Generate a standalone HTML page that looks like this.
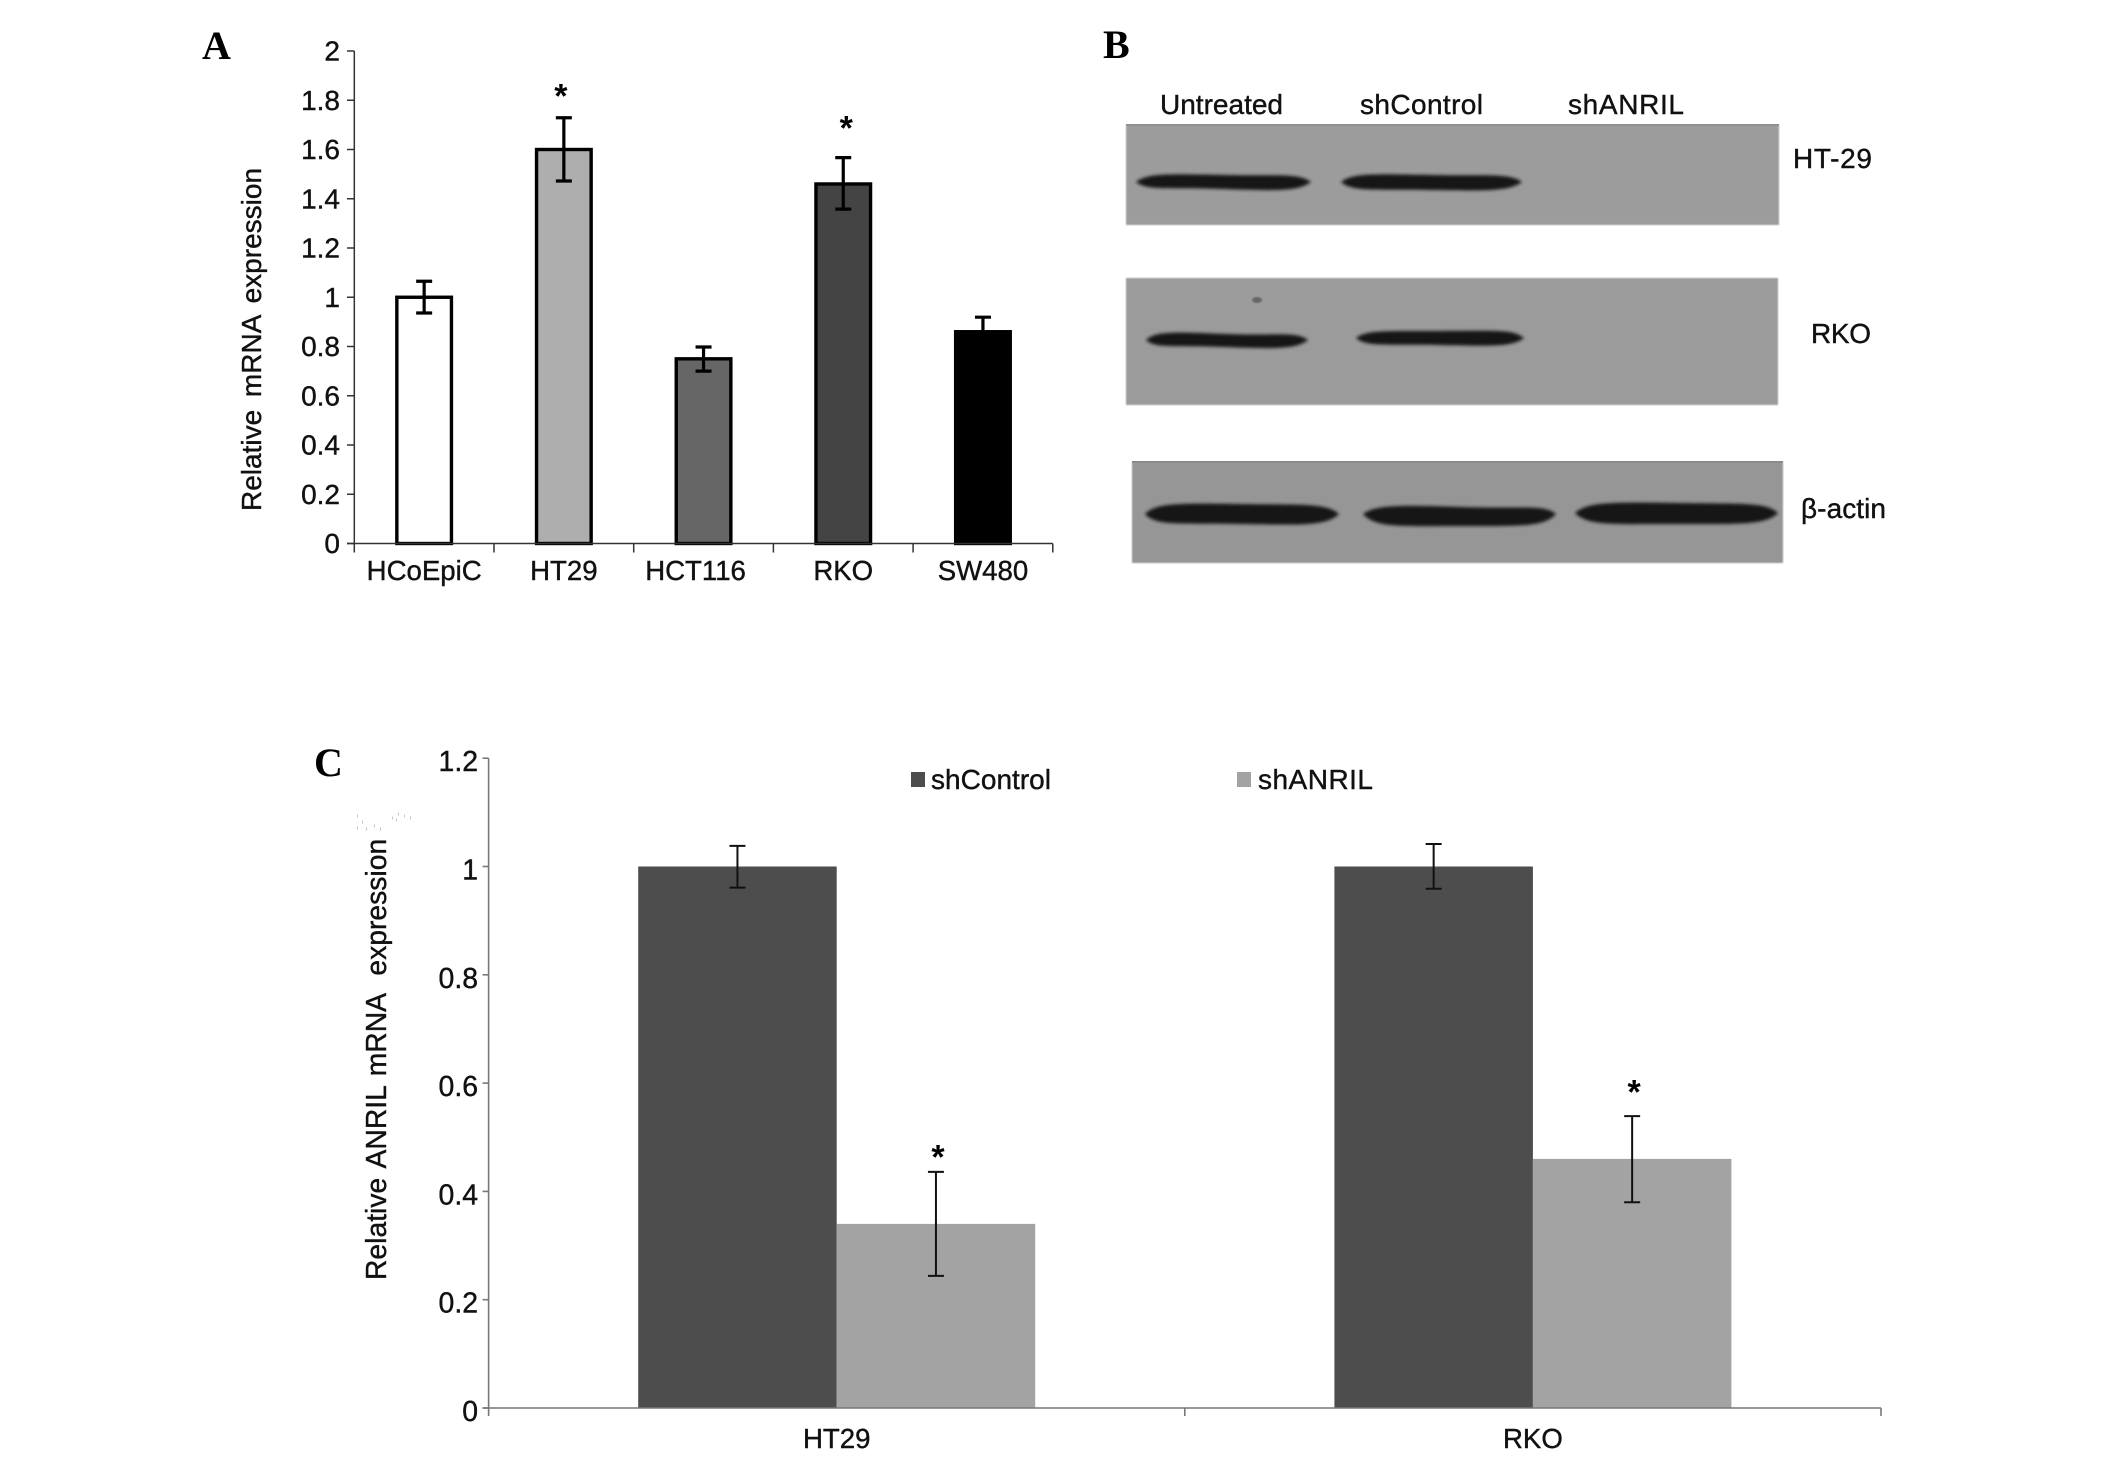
<!DOCTYPE html>
<html lang="en">
<head>
<meta charset="utf-8">
<title>ANRIL expression figure</title>
<style>
html,body{margin:0;padding:0;background:#fff;}
svg{display:block;}
text{font-family:"Liberation Sans",sans-serif;fill:#111;stroke:#111;stroke-width:0.4px;}
.panel{font-family:"Liberation Serif",serif;font-weight:bold;font-size:40px;fill:#000;stroke:none;}
.lbl{font-size:28px;}
.star{font-weight:bold;font-size:34px;fill:#000;text-anchor:middle;stroke:none;}
</style>
</head>
<body>
<svg id="fig" xmlns="http://www.w3.org/2000/svg" width="2126" height="1459" viewBox="0 0 2126 1459">
  <defs>
    <filter id="soft" x="-10%" y="-60%" width="120%" height="220%"><feGaussianBlur stdDeviation="1.6"/></filter>
    <filter id="edge" x="-2%" y="-2%" width="104%" height="104%"><feGaussianBlur stdDeviation="0.8"/></filter>
  </defs>

  <text class="panel" x="202" y="59">A</text>
  <text class="panel" x="1103" y="58">B</text>
  <text class="panel" x="314" y="776">C</text>

  <g id="chartA"></g>

  <text class="lbl" transform="translate(261,511) rotate(-90)" word-spacing="5">Relative mRNA expression</text>

  <g>
    <text class="lbl" x="1160" y="114" textLength="123">Untreated</text>
    <text class="lbl" x="1360" y="114" textLength="123">shControl</text>
    <text class="lbl" x="1568" y="114" textLength="116">shANRIL</text>

    <g>
      <rect x="1126" y="125" width="653" height="100" fill="#9c9c9c" filter="url(#edge)"/>
      <rect x="1126" y="124" width="653" height="2" fill="#919191"/>
      <path d="M1136 182 C1148 173 1166 174 1224 175 S1298 173 1311 182 C1298 191 1282 191 1224 189 S1148 191 1136 182Z" fill="#121212" filter="url(#soft)"/>
      <path d="M1341 182 C1353 173 1371 174 1431 175 S1509 173 1522 182 C1509 191 1491 191 1431 190 S1353 192 1341 182Z" fill="#121212" filter="url(#soft)"/>
    </g>
    <text class="lbl" x="1793" y="168" textLength="79">HT-29</text>

    <g>
      <rect x="1126" y="278" width="652" height="127" fill="#9b9b9b" filter="url(#edge)"/>
      <ellipse cx="1257" cy="300" rx="5" ry="3" fill="#666" filter="url(#edge)"/>
      <path d="M1146 340 C1156 331 1174 332 1226 334 S1296 331 1308 340 C1296 349 1278 349 1226 347 S1156 349 1146 340Z" fill="#121212" filter="url(#soft)"/>
      <path d="M1356 338 C1366 330 1384 331 1440 331 S1512 329 1524 338 C1512 347 1494 346 1440 345 S1366 347 1356 338Z" fill="#121212" filter="url(#soft)"/>
    </g>
    <text class="lbl" x="1811" y="343" textLength="60">RKO</text>

    <g>
      <rect x="1132" y="462" width="651" height="101" fill="#969696" filter="url(#edge)"/>
      <rect x="1132" y="461" width="651" height="2" fill="#8a8a8a"/>
      <path d="M1145 514 C1156 503 1176 503 1240 504 S1326 503 1339 514 C1326 526 1304 525 1240 524 S1156 526 1145 514Z" fill="#121212" filter="url(#soft)"/>
      <path d="M1363 514 C1376 505 1396 505 1460 507 S1544 504 1556 514 C1544 527 1522 526 1460 526 S1376 528 1363 514Z" fill="#121212" filter="url(#soft)"/>
      <path d="M1575 513 C1588 502 1608 502 1676 503 S1766 502 1778 513 C1766 525 1742 524 1676 524 S1588 526 1575 513Z" fill="#121212" filter="url(#soft)"/>
    </g>
    <text class="lbl" x="1801" y="518" textLength="85">β-actin</text>
  </g>

  <g id="chartC"></g>

  <text class="lbl" transform="translate(386,1280) rotate(-90)" font-size="28.3" style="font-size:28.3px">Relative <tspan dx="3">ANRIL</tspan> <tspan dx="2">mRNA</tspan> <tspan dx="11">expression</tspan></text>

  <path d="M357 816h1M362 822h1M357 828h1M366 829h1M374 826h1M380 829h1M392 818h1M398 814h1M404 816h1M410 818h1M396 820h1" stroke="#c4c4c4" stroke-width="3" fill="none"/>

  <g>
    <rect x="911" y="772" width="14" height="15" fill="#4d4d4d"/>
    <text class="lbl" x="931" y="789" textLength="120">shControl</text>
    <rect x="1237" y="772" width="14" height="15" fill="#a3a3a3"/>
    <text class="lbl" x="1258" y="789" textLength="115">shANRIL</text>
  </g>
</svg>

<script>
// Panel A data
const catsA = ['HCoEpiC', 'HT29', 'HCT116', 'RKO', 'SW480'];
const valuesA = [1, 1.6, 0.75, 1.46, 0.86];
const errHighA = [1.065, 1.729, 0.798, 1.567, 0.919];
const errLowA = [0.936, 1.472, 0.70, 1.358, 0.80];
const starA = [null, 1.855, null, 1.725, null];
const fillsA = ['#ffffff', '#aeaeae', '#666666', '#444444', '#000000'];
const ticksA = ['0', '0.2', '0.4', '0.6', '0.8', '1', '1.2', '1.4', '1.6', '1.8', '2'];

// Panel C data
const catsC = ['HT29', 'RKO'];
const seriesNamesC = ['shControl', 'shANRIL'];
const shControlC = [1, 1];
const shAnrilC = [0.34, 0.46];
const shControlHigh = [1.038, 1.0415];
const shControlLow = [0.961, 0.959];
const shAnrilHigh = [0.436, 0.539];
const shAnrilLow = [0.244, 0.380];
const starC = [0.481, 0.601];
const ticksC = ['0', '0.2', '0.4', '0.6', '0.8', '1', '1.2'];

const NS = 'http://www.w3.org/2000/svg';
function el(tag, attrs, parent, txt) {
  const n = document.createElementNS(NS, tag);
  for (const k in attrs) n.setAttribute(k, attrs[k]);
  if (txt !== undefined) n.textContent = txt;
  parent.appendChild(n);
  return n;
}

// Axis functions, panel A
const yA = v => 543.5 - v * 246.25;
const xEdgeA = i => 354.3 + i * 139.7;
const xA = i => xEdgeA(i + 0.5);
// Axis functions, panel C
const yC = v => 1408 - v * 541.5;
const xEdgeC = i => 488.6 + i * 696.2;
const xC = i => xEdgeC(i + 0.5);
const barWC = 198.5;

const gA = document.getElementById('chartA');
const gC = document.getElementById('chartC');

// ---------- Panel A ----------
catsA.forEach((c, i) => {
  const bar = el('rect', {x: xA(i) - 27.3, y: yA(valuesA[i]), width: 54.6, height: yA(0) - yA(valuesA[i]), fill: fillsA[i], stroke: '#000', 'stroke-width': 3.4}, gA);
  
  

  const err = el('path', {d: `M${xA(i)} ${yA(errHighA[i])}V${yA(errLowA[i])}M${xA(i) - 8} ${yA(errHighA[i])}h16M${xA(i) - 8} ${yA(errLowA[i])}h16`, stroke: '#000', 'stroke-width': 3.2, fill: 'none'}, gA);
  
  

  const lab = el('text', {x: xA(i) + (i === 2 ? -8 : 0), y: 580, 'text-anchor': 'middle', 'font-size': 27.6}, gA, c);
  
  

  if (starA[i] !== null) {
    const s = el('text', {class: 'star', x: xA(i) + (i === 1 ? -3 : 3), y: yA(starA[i]) + 21}, gA, '*');
    
    
  }
});
ticksA.forEach(t => {
  const v = parseFloat(t);
  const tick = el('line', {x1: 347, x2: 354.3, y1: yA(v), y2: yA(v), stroke: '#333', 'stroke-width': 1.5}, gA);
  
  
  const lab = el('text', {x: 340, y: yA(v) + 9.5, 'text-anchor': 'end', 'font-size': 28}, gA, t);
  
  
});
for (let i = 0; i <= catsA.length; i++) {
  const tick = el('line', {x1: xEdgeA(i), x2: xEdgeA(i), y1: yA(0), y2: yA(0) + 9, stroke: '#333', 'stroke-width': 1.5}, gA);
  
  
}
const axisYA = el('line', {x1: xEdgeA(0), x2: xEdgeA(0), y1: yA(2), y2: yA(0), stroke: '#333', 'stroke-width': 1.5}, gA);


const axisXA = el('line', {x1: 347, x2: xEdgeA(catsA.length), y1: yA(0), y2: yA(0), stroke: '#333', 'stroke-width': 1.5}, gA);



// ---------- Panel C ----------
catsC.forEach((c, i) => {
  const dark = el('rect', {x: xC(i) - barWC, y: yC(shControlC[i]), width: barWC, height: yC(0) - yC(shControlC[i]), fill: '#4d4d4d'}, gC);
  
  

  const light = el('rect', {x: xC(i), y: yC(shAnrilC[i]), width: barWC, height: yC(0) - yC(shAnrilC[i]), fill: '#a3a3a3'}, gC);
  
  

  const cd = xC(i) - barWC / 2;
  const cl = xC(i) + barWC / 2;
  const e1 = el('path', {d: `M${cd} ${yC(shControlHigh[i])}V${yC(shControlLow[i])}M${cd - 8} ${yC(shControlHigh[i])}h16M${cd - 8} ${yC(shControlLow[i])}h16`, stroke: '#111', 'stroke-width': 2, fill: 'none'}, gC);
  
  

  const e2 = el('path', {d: `M${cl} ${yC(shAnrilHigh[i])}V${yC(shAnrilLow[i])}M${cl - 8} ${yC(shAnrilHigh[i])}h16M${cl - 8} ${yC(shAnrilLow[i])}h16`, stroke: '#111', 'stroke-width': 2, fill: 'none'}, gC);
  
  

  const s = el('text', {class: 'star', x: cl + 2, y: yC(starC[i]) + 21}, gC, '*');
  
  

  const lab = el('text', {x: xC(i), y: 1448, 'text-anchor': 'middle', 'font-size': 27.6}, gC, c);
  
  
});
ticksC.forEach(t => {
  const v = parseFloat(t);
  const tick = el('line', {x1: 482.6, x2: 488.6, y1: yC(v), y2: yC(v), stroke: '#777', 'stroke-width': 1.6}, gC);
  
  
  const lab = el('text', {x: 478, y: yC(v) + 13, 'text-anchor': 'end', 'font-size': 28.4}, gC, t);
  
  
});
for (let i = 0; i <= catsC.length; i++) {
  const tick = el('line', {x1: xEdgeC(i), x2: xEdgeC(i), y1: yC(0), y2: yC(0) + 8, stroke: '#777', 'stroke-width': 1.6}, gC);
  
  
}
const axisYC = el('line', {x1: xEdgeC(0), x2: xEdgeC(0), y1: yC(1.2), y2: yC(0), stroke: '#777', 'stroke-width': 1.6}, gC);


const axisXC = el('line', {x1: 482.6, x2: xEdgeC(catsC.length), y1: yC(0), y2: yC(0), stroke: '#777', 'stroke-width': 1.6}, gC);


</script>
</body>
</html>
